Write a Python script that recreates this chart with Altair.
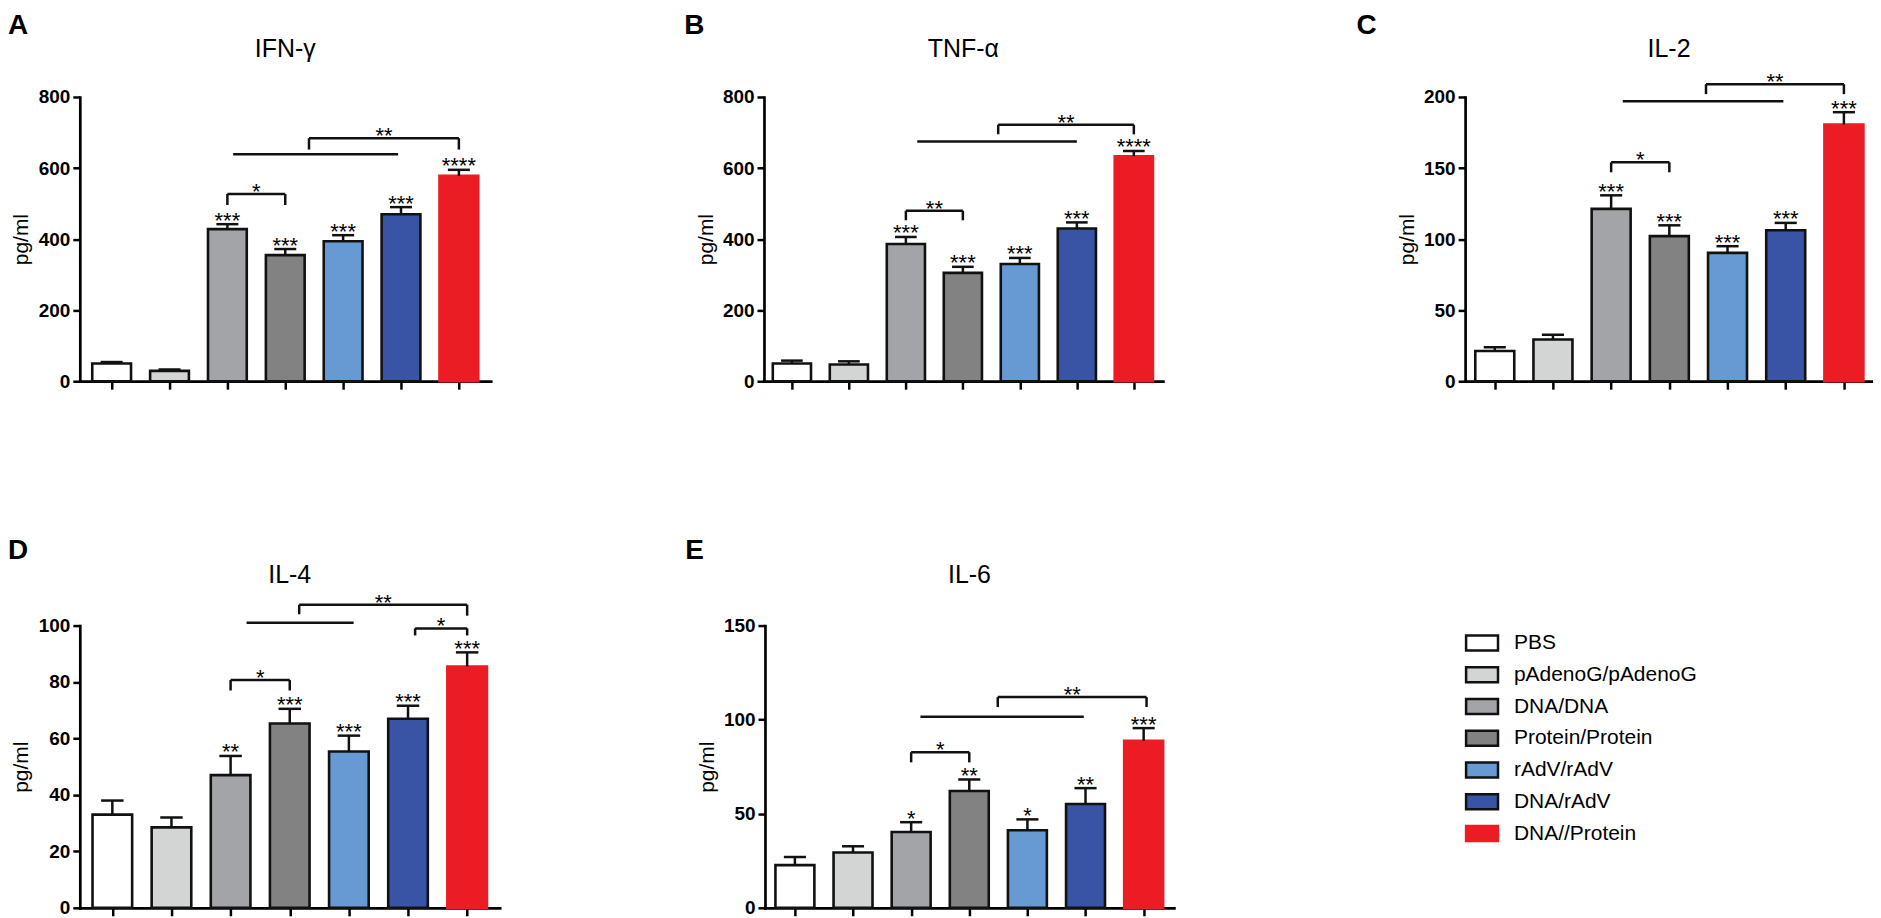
import altair as alt
import pandas as pd

FONT = "Liberation Sans"

groups = ["PBS", "pAdenoG/pAdenoG", "DNA/DNA", "Protein/Protein", "rAdV/rAdV", "DNA/rAdV", "DNA//Protein"]
fill_colors = ["#ffffff", "#d3d5d4", "#a2a4a7", "#828282", "#679ad3", "#3a54a5", "#ec1c24"]
stroke_colors = ["#111111", "#111111", "#111111", "#111111", "#111111", "#111111", "#ec1c24"]

panel_letters = ["A", "B", "C", "D", "E"]
panel_titles = ["IFN-γ", "TNF-α", "IL-2", "IL-4", "IL-6"]

# mean values and top of error bar (mean + SEM)
ifn_mean = [50, 29, 428, 355, 394, 470, 578]
ifn_err = [54, 33, 442, 372, 411, 490, 595]
ifn_sig = ["", "", "***", "***", "***", "***", "****"]

tnf_mean = [50, 47, 386, 305, 330, 430, 633]
tnf_err = [58, 56, 406, 322, 347, 447, 648]
tnf_sig = ["", "", "***", "***", "***", "***", "****"]

il2_mean = [21.3, 29.4, 121.3, 102.1, 90.3, 106.2, 180.6]
il2_err = [23.9, 32.7, 130.8, 109.7, 95.0, 111.4, 189.3]
il2_sig = ["", "", "***", "***", "***", "***", "***"]

il4_mean = [33, 28.5, 47, 65.3, 55.4, 67, 85.5]
il4_err = [38, 32, 53.8, 70.5, 61, 71.6, 90.5]
il4_sig = ["", "", "**", "***", "***", "***", "***"]

il6_mean = [22.7, 29.4, 40.3, 62.1, 41.2, 55.2, 88.8]
il6_err = [27, 32.7, 45.5, 68.2, 47, 63.6, 95.5]
il6_sig = ["", "", "*", "**", "*", "**", "***"]

# significance brackets: (left group pos, right group pos, line value, left leg end, right leg end, label)
ifn_brackets = [(2, 3, 527, 496, 496, "*"), (2.1, 4.95, 639, 639, 639, ""), (3.41, 6, 684, 652, 652, "**")]
tnf_brackets = [(2, 3, 480, 453, 453, "**"), (2.2, 5, 675, 675, 675, ""), (3.62, 6, 722, 695, 695, "**")]
il2_brackets = [(2, 3, 154, 147, 147, "*"), (2.2, 4.96, 197, 197, 197, ""), (3.63, 6, 209, 202, 202, "**")]
il4_brackets = [(2, 3, 80.7, 77, 77, "*"), (2.27, 4.08, 101, 101, 101, ""),
                (3.16, 6, 107.4, 104, 103.5, "**"), (5.12, 6, 99, 96.5, 96.5, "*")]
il6_brackets = [(2, 3, 82.7, 77.3, 77.3, "*"), (2.16, 4.97, 101.5, 101.5, 101.5, ""),
                (3.49, 6.05, 112, 106.7, 106.7, "**")]

fill_scale = alt.Scale(domain=groups, range=fill_colors)
stroke_scale = alt.Scale(domain=groups, range=stroke_colors)


def xaxis():
    return alt.Axis(values=list(range(7)), labels=False, title=None, grid=False,
                    domainColor="black", domainWidth=2.7, domainCap="square",
                    tickColor="black", tickWidth=2.5, tickSize=8)


def yaxis(ticks, height):
    return alt.Axis(values=ticks, format="d", title="pg/ml", grid=False,
                    domainColor="black", domainWidth=2.7, domainCap="square",
                    tickColor="black", tickWidth=2.5, tickSize=7,
                    labelFont=FONT, labelFontWeight="bold", labelFontSize=19,
                    labelColor="black", labelPadding=3,
                    titleFont=FONT, titleFontSize=21, titleFontWeight="normal",
                    titleColor="black", titleX=-48, titleY=height / 2, titleAngle=270)


def panel(k, mean, err, sig, brackets, width, height, xdom, ymax, ystep,
          letter_x, letter_y, title_y):
    ticks = list(range(0, ymax + 1, ystep))
    xs = alt.Scale(domain=xdom, nice=False, zero=False)
    ys = alt.Scale(domain=[0, ymax], nice=False, zero=True)

    def X(f):
        return alt.X(f + ":Q", scale=xs, axis=xaxis())

    def Y(f):
        return alt.Y(f + ":Q", scale=ys, axis=yaxis(ticks, height))

    idx = list(range(7))
    bars = pd.DataFrame({"group": groups, "x": [i - 0.335 for i in idx],
                         "x2": [i + 0.335 for i in idx], "y": mean, "y2": [0] * 7})
    rules = []
    for i in idx:
        rules.append({"x": i, "x2": i, "y": mean[i], "y2": err[i]})
        rules.append({"x": i - 0.19, "x2": i + 0.19, "y": err[i], "y2": err[i]})
    segs = []
    labs = []
    for (a, b, yv, yl, yr, lab) in brackets:
        segs.append({"x": a, "x2": b, "y": yv, "y2": yv})
        if yl != yv:
            segs.append({"x": a, "x2": a, "y": yv, "y2": yl})
        if yr != yv:
            segs.append({"x": b, "x2": b, "y": yv, "y2": yr})
        if lab:
            labs.append({"x": (a + b) / 2, "y": yv, "t": lab})
    stars = pd.DataFrame({"x": idx, "y": err, "t": sig})

    bar_l = alt.Chart(bars).mark_rect(strokeWidth=2.6).encode(
        x=X("x"), x2="x2", y=Y("y"), y2="y2",
        fill=alt.Fill("group:N", scale=fill_scale, legend=None),
        stroke=alt.Stroke("group:N", scale=stroke_scale, legend=None))
    err_l = alt.Chart(pd.DataFrame(rules)).mark_rule(strokeWidth=2.5, color="#111111").encode(
        x=X("x"), x2="x2", y=Y("y"), y2="y2")
    br_l = alt.Chart(pd.DataFrame(segs)).mark_rule(strokeWidth=2.5, color="#111111").encode(
        x=X("x"), x2="x2", y=Y("y"), y2="y2")
    lab_l = alt.Chart(pd.DataFrame(labs)).mark_text(
        font=FONT, fontSize=22, baseline="alphabetic", align="center", dy=5, color="black").encode(
        x=X("x"), y=Y("y"), text="t:N")
    star_l = alt.Chart(stars).mark_text(
        font=FONT, fontSize=22, baseline="alphabetic", align="center", dy=3.5, color="black").encode(
        x=X("x"), y=Y("y"), text="t:N")
    title_l = alt.Chart(pd.DataFrame({"t": [panel_titles[k]]})).mark_text(
        font=FONT, fontSize=25, baseline="alphabetic", align="center", color="black").encode(
        x=alt.value(width / 2), y=alt.value(title_y), text="t:N")
    letter_l = alt.Chart(pd.DataFrame({"t": [panel_letters[k]]})).mark_text(
        font=FONT, fontSize=28, fontWeight="bold", baseline="alphabetic", align="left", color="black").encode(
        x=alt.value(letter_x), y=alt.value(letter_y), text="t:N")
    return alt.layer(bar_l, err_l, br_l, lab_l, star_l, title_l, letter_l)


A = panel(0, ifn_mean, ifn_err, ifn_sig, ifn_brackets, 412, 285, [-0.55, 6.55], 800, 200,
          -72, -63, -40).properties(width=412, height=285)
B = panel(1, tnf_mean, tnf_err, tnf_sig, tnf_brackets, 400, 285, [-0.49, 6.51], 800, 200,
          -80, -63, -40).properties(width=400, height=285)
C = panel(2, il2_mean, il2_err, il2_sig, il2_brackets, 409, 285, [-0.51, 6.5], 200, 50,
          -109, -63, -40).properties(width=409, height=285)
D = panel(3, il4_mean, il4_err, il4_sig, il4_brackets, 421, 283, [-0.55, 6.55], 100, 20,
          -72, -67, -43).properties(width=421, height=283)
E_inner = panel(4, il6_mean, il6_err, il6_sig, il6_brackets, 410, 283, [-0.515, 6.52], 150, 50,
                -80, -67, -43)

leg_df = pd.DataFrame({"group": groups, "li": list(range(7))})
leg_y = alt.Y("li:Q", scale=alt.Scale(domain=[-0.55, 8.34], reverse=True, nice=False, zero=False), axis=None)
leg_boxes = alt.Chart(leg_df).mark_point(
    shape="M-1,-0.47H1V0.47H-1Z", size=1024, filled=True, opacity=1, strokeWidth=2.5).encode(
    x=alt.value(719), y=leg_y,
    fill=alt.Fill("group:N", scale=fill_scale, legend=None),
    stroke=alt.Stroke("group:N", scale=stroke_scale, legend=None))
leg_text = alt.Chart(leg_df).mark_text(
    font=FONT, fontSize=21, align="left", baseline="middle", color="black").encode(
    x=alt.value(751), y=leg_y, text="group:N")
legend = alt.layer(leg_boxes, leg_text)

E = alt.layer(E_inner, legend).resolve_scale(y="independent").properties(width=410, height=283)

row1 = alt.hconcat(A, B, C, spacing=194)
row2 = alt.hconcat(D, E, spacing=186)
chart = alt.vconcat(row1, row2, spacing=146).configure_view(stroke=None).properties(
    padding={"top": 3, "left": 0, "right": 0, "bottom": 0}, background="white")

chart.save("out.html", embed_options={"renderer": "svg", "actions": False})
